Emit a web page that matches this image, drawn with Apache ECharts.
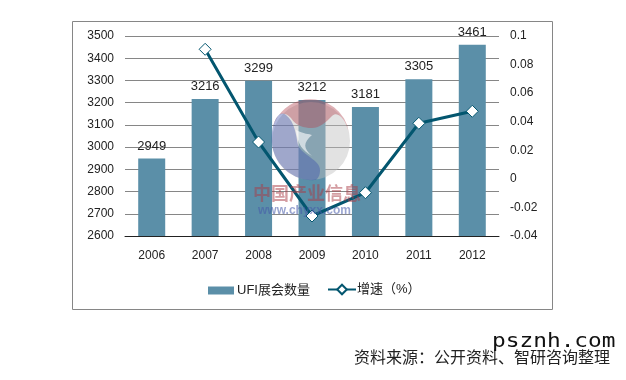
<!DOCTYPE html>
<html><head><meta charset="utf-8">
<style>html,body{margin:0;padding:0;background:#fff}#c{width:626px;height:380px}</style>
<script src="https://cdn.jsdelivr.net/npm/echarts@6/dist/echarts.min.js"></script>
</head><body><div id="c"></div>
<script>
const categories = ['2006','2007','2008','2009','2010','2011','2012'];
const exhibitions = [2949,3216,3299,3212,3181,3305,3461];
const growth = [null,0.0907,0.0258,-0.026,-0.0097,0.0389,0.0473];
const barName = 'UFI展会数量';
const lineName = '增速（%）';
const font = 'Liberation Sans, Arial, "Noto Sans CJK SC", sans-serif';
echarts.graphic.registerShape('wmRed', echarts.graphic.extendPath('M273,127 C276,113 284,110 291,118 C296,126 304,128 312,128 C320,128 326,122 332,116 C338,110 346,120 349,133 A39,39 0 0 0 273,127Z'));
echarts.graphic.registerShape('wmBlue', echarts.graphic.extendPath('M272,132 C274,118 280,110 286,115 C295,122 296,135 298,145 C302,155 320,160 320,170 C320,176 318,178 316,180 C290,182 268,160 272,132Z'));
echarts.graphic.registerShape('wmHole', echarts.graphic.extendPath('M296,130 C303,134 310,134 312,135 C303,143 303,148 312,156 C302,150 298,145 296,130Z'));
const chart = echarts.init(document.getElementById('c'), null, {renderer:'canvas'});
chart.setOption({
  animation:false,
  backgroundColor:'#fff',
  grid:{left:125,right:127,top:36,bottom:144,containLabel:false},
  legend:[
    {top:284,left:208,padding:0,itemGap:0,itemWidth:26,itemHeight:8,
     textStyle:{fontFamily:font,fontSize:13,color:'#222',padding:[0,0,0,-2]},
     data:[{name:barName,icon:'rect'}]},
    {top:283,left:327,padding:0,itemGap:0,itemWidth:28,itemHeight:12,
     textStyle:{fontFamily:font,fontSize:13,color:'#222',padding:[0,0,0,-4]},
     data:[{name:lineName}]}
  ],
  xAxis:{type:'category',data:categories,
    axisLine:{onZero:false,lineStyle:{color:'#222',width:1}},axisTick:{show:false},
    axisLabel:{fontFamily:font,fontSize:12,color:'#222',margin:14}},
  yAxis:[
    {type:'value',min:2600,max:3500,interval:100,
     axisLine:{show:false},axisTick:{show:false},
     splitLine:{lineStyle:{color:'#868686',width:1}},
     axisLabel:{fontFamily:font,fontSize:12,color:'#222',margin:11,formatter:v=>String(v)}},
    {type:'value',min:-0.04,max:0.1,interval:0.02,
     axisLine:{show:false},axisTick:{show:false},splitLine:{show:false},
     axisLabel:{fontFamily:font,fontSize:12,color:'#222',margin:11,
       formatter:v=>String(Math.round(v*100)/100)}}
  ],
  series:[
    {name:barName,type:'bar',data:exhibitions,barWidth:27,
     itemStyle:{color:'#5b8fa8'},
     label:{show:true,position:'top',distance:6,fontFamily:font,fontSize:13,color:'#222'}},
    {name:lineName,type:'line',yAxisIndex:1,data:growth,connectNulls:false,
     symbol:'diamond',symbolSize:12,
     lineStyle:{color:'#03566f',width:3},
     itemStyle:{color:'#fff',borderColor:'#03566f',borderWidth:1}}
  ],
  graphic:[
    {type:'rect',silent:true,z:0,shape:{x:72.5,y:21.5,width:480,height:288},
     style:{fill:'none',stroke:'#868686',lineWidth:1}},
    {type:'circle',silent:true,z:20,shape:{cx:311,cy:141,r:39},
     style:{fill:'rgba(190,190,190,0.45)'}},
    {type:'wmHole',silent:true,z:20,style:{fill:'rgba(255,255,255,0.6)'}},
    {type:'wmRed',silent:true,z:21,style:{fill:'rgba(178,70,80,0.42)'}},
    {type:'wmBlue',silent:true,z:21,style:{fill:'rgba(60,80,170,0.4)'}},
    {type:'text',silent:true,z:22,x:253,y:184,
     style:{text:'中国产业信息',font:'bold 18px "Noto Sans CJK SC"',fill:'rgba(170,60,70,0.5)'}},
    {type:'text',silent:true,z:22,x:258,y:205,
     style:{text:'www.chyxx.com',font:'bold 12px "Liberation Sans"',fill:'rgba(70,90,170,0.55)'}},
    {type:'text',silent:true,z:30,x:492,y:332,scaleX:1.14,
     style:{text:'psznh.com',font:'20px "DejaVu Sans Mono"',fill:'#111'}},
    {type:'text',silent:true,z:29,x:354,y:349,
     style:{text:'资料来源：公开资料、智研咨询整理',font:'16px "Noto Sans CJK SC"',fill:'#222'}}
  ]
});
</script></body></html>
